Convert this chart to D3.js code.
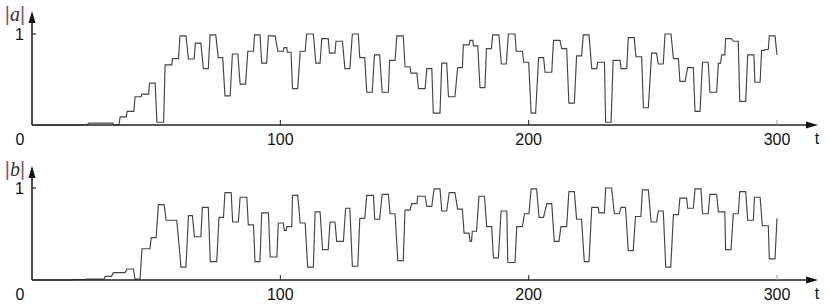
<!DOCTYPE html>
<html><head><meta charset="utf-8">
<script src="https://cdn.jsdelivr.net/npm/d3@7"></script>
<style>body{margin:0;background:#fff}svg{display:block}</style>
</head><body>
<script>
// Top series |a| : plateaus (start t, end t, value)
const aStart=[0,23,33,35.5,38.3,41.5,44.2,47.3,50.3,53.6,56.6,59.6,63,65.8,69,71.7,75,77.7,80.7,83.8,86.9,89.6,92.5,95.2,99,101.5,102.8,104.9,108,110.6,114.3,116.7,119.8,122.4,126,129,132,134.8,137.9,141,144,146.9,150.2,152.6,155.6,159,161.6,165,167.7,171.4,173.7,176.4,177.8,180.4,183,185.5,189,191.8,195,198,201,204,206.6,210,213.3,216.2,219.3,222,225.4,227.8,231,234,237.2,240.1,243.2,246.2,249.5,252.2,254.9,258.3,260.9,264,267,270,273,276.4,277.7,279.3,282.4,285,288.2,291.1,293.8,295.2,296.9,300];
const aEnd=[22,32.5,35,38,41,44,47,49.6,53,56.3,59,62,65.3,68,71,74,76.8,79.8,82.9,86,89.2,91.8,94.5,97.9,101.2,102.6,104.3,107,110,113.3,116,119.3,122,125,128,131.4,134,137,140,143.5,146.2,149.5,152.2,155,158.3,161,164.3,167,170.3,173.3,176,177.5,179.5,182.4,185,188,191,194.5,197.5,200,202.8,206,209.3,212.6,215.3,218.4,221.3,224.3,227.4,230.5,233.2,236.8,239.5,242.5,245.5,248.2,251.5,254.2,257.3,260.3,263,266.3,269,272.3,275.7,277.3,279,281.7,284.4,287.4,290.7,293.2,295,296.5,299.2,300];
const aVal=[0,0.02,0,0.09,0.15,0.31,0.34,0.46,0.03,0.66,0.73,0.98,0.725,0.9,0.62,0.99,0.74,0.32,0.78,0.45,0.81,0.99,0.68,0.98,0.81,0.85,0.8,0.40,0.81,1.0,0.68,0.95,0.79,0.92,0.62,1.0,0.74,0.36,0.77,0.36,0.71,0.98,0.64,0.57,0.40,0.62,0.13,0.68,0.31,0.63,0.88,0.93,0.87,0.41,0.84,0.99,0.67,1.0,0.81,0.69,0.13,0.74,0.58,0.93,0.84,0.24,0.76,0.99,0.62,0.69,0.03,0.71,0.62,0.96,0.75,0.19,0.79,0.67,1.0,0.73,0.48,0.63,0.15,0.69,0.36,0.68,0.77,0.95,0.92,0.26,0.77,0.47,0.82,0.83,0.98,0.77];

// Bottom series |b|
const bStart=[0,17,22,29.5,32.8,38.2,41.5,44.3,48,50.9,54,60,63,65.4,68.6,71.8,75.3,77.7,80.8,83.8,87.1,89.8,92.5,95.9,99.2,101.6,102.6,104.9,108,111,114,117,120,122.7,126.3,129,132,134.8,138,141,144.2,147.3,150.2,152.9,155.3,159,161.9,165,168,171.4,174,176.4,177.3,180,183.1,185.8,188.9,191.6,195.2,198.3,201,204.2,207.3,210.3,213,216.2,219.3,222.4,225.4,228.3,231,234.5,237.2,240.1,243,245.8,249.3,252.2,255.2,258.3,260.9,264,267,270,273,276.4,279.3,282.4,285,288.2,290.9,294.1,296.9,300];
const bEnd=[16.5,21.5,29,32,37.5,40.8,43.5,47.5,50,53.2,58.3,62,64.6,68,71,74.4,77.1,80.2,83.1,86.5,89.2,91.8,95.2,98.6,101.2,102.4,104.6,107,110,113.3,116,119.3,122,125.4,128,131.2,134,137.5,140,143.5,146.2,149.5,152.2,155,158.3,161,164.3,167,170.3,173.3,176,177,179,182.2,185.1,187.8,191.2,194.5,197.5,200.1,203.2,206,209.3,212.2,215.3,218.4,221.3,224.3,228,230.5,233.4,236.5,239,242.1,245.2,248.2,251.5,254.2,257.2,260.3,263.6,266.3,269.4,272.3,275.7,279,281.5,284.4,287.4,290.5,293.2,296.5,299.2,300];
const bVal=[0,0.005,0.01,0.04,0.08,0.12,0.01,0.34,0.46,0.82,0.65,0.14,0.70,0.47,0.79,0.20,0.68,0.95,0.63,0.90,0.60,0.20,0.73,0.25,0.62,0.54,0.58,0.92,0.62,0.14,0.74,0.33,0.63,0.42,0.78,0.15,0.67,0.92,0.66,0.93,0.72,0.21,0.76,0.83,0.91,0.80,0.99,0.75,0.95,0.77,0.51,0.42,0.53,0.91,0.58,0.24,0.75,0.19,0.58,0.72,0.99,0.68,0.83,0.42,0.58,0.96,0.66,0.20,0.79,0.73,1.0,0.72,0.79,0.32,0.69,0.98,0.63,0.75,0.14,0.71,0.89,0.78,0.99,0.72,0.93,0.74,0.33,0.72,0.96,0.65,0.90,0.59,0.23,0.67];

const xTicks=[100,200,300];
const yTicks=[1];

const W=830,H=306;
const svg=d3.select("body").append("svg").attr("width",W).attr("height",H);
const x=d3.scaleLinear().domain([0,300]).range([32,777]);

const panels=[
  {start:aStart,end:aEnd,val:aVal,y0:125,y1:34,top:11,name:"a"},
  {start:bStart,end:bEnd,val:bVal,y0:280,y1:188,top:166,name:"b"}
];

panels.forEach(p=>{
  const y=d3.scaleLinear().domain([0,1]).range([p.y0,p.y1]);
  const g=svg.append("g");
  const pts=[];
  p.start.forEach((s,i)=>{pts.push([s,p.val[i]]);if(p.end[i]!==s)pts.push([p.end[i],p.val[i]]);});
  g.append("path").datum(pts)
    .attr("d",d3.line().x(d=>x(d[0])).y(d=>y(d[1])))
    .attr("fill","none").attr("stroke","#444").attr("stroke-width",1.15);
  g.append("line").attr("x1",32).attr("x2",810).attr("y1",p.y0).attr("y2",p.y0)
    .attr("stroke","#222").attr("stroke-width",1.6);
  g.append("path").attr("d",`M818,${p.y0} L806,${p.y0-3.5} L806,${p.y0+3.5} Z`).attr("fill","#111");
  g.append("line").attr("x1",32).attr("x2",32).attr("y1",p.y0).attr("y2",p.top+8)
    .attr("stroke","#222").attr("stroke-width",1.6);
  g.append("path").attr("d",`M32,${p.top} L28.5,${p.top+12} L35.5,${p.top+12} Z`).attr("fill","#111");
  xTicks.forEach(t=>{
    g.append("line").attr("x1",x(t)).attr("x2",x(t)).attr("y1",p.y0).attr("y2",p.y0-5)
      .attr("stroke",t===300?"#999":"#222").attr("stroke-width",1);
    g.append("text").attr("x",x(t)).attr("y",p.y0+19.5).attr("text-anchor","middle")
      .attr("font-family","Liberation Sans, Arial, sans-serif").attr("font-size",16).attr("fill","#111").text(t);
  });
  g.append("text").attr("x",20).attr("y",p.y0+19.5).attr("text-anchor","middle")
    .attr("font-family","Liberation Sans, Arial, sans-serif").attr("font-size",16).attr("fill","#111").text("0");
  g.append("text").attr("x",817).attr("y",p.y0+19).attr("text-anchor","middle")
    .attr("font-family","Liberation Sans, Arial, sans-serif").attr("font-size",16).attr("fill","#111").text("t");
  yTicks.forEach(v=>{
    g.append("line").attr("x1",32).attr("x2",36).attr("y1",y(v)).attr("y2",y(v)).attr("stroke","#222").attr("stroke-width",1.2);
    g.append("text").attr("x",24).attr("y",y(v)+5.5).attr("text-anchor","end")
      .attr("font-family","Liberation Sans, Arial, sans-serif").attr("font-size",16).attr("fill","#111").text(v);
  });
  const lab=g.append("text").attr("x",15).attr("y",p.top+9.5).attr("text-anchor","middle")
    .attr("font-size",20);
  lab.append("tspan").attr("fill","#a05050").attr("font-family","Liberation Sans, Arial, sans-serif").attr("font-weight","300").text("|");
  lab.append("tspan").attr("fill","#333").attr("font-family","Liberation Serif, Times New Roman, serif").attr("font-style","italic").text(p.name);
  lab.append("tspan").attr("fill","#a05050").attr("font-family","Liberation Sans, Arial, sans-serif").attr("font-weight","300").text("|");
});
</script>
</body></html>
